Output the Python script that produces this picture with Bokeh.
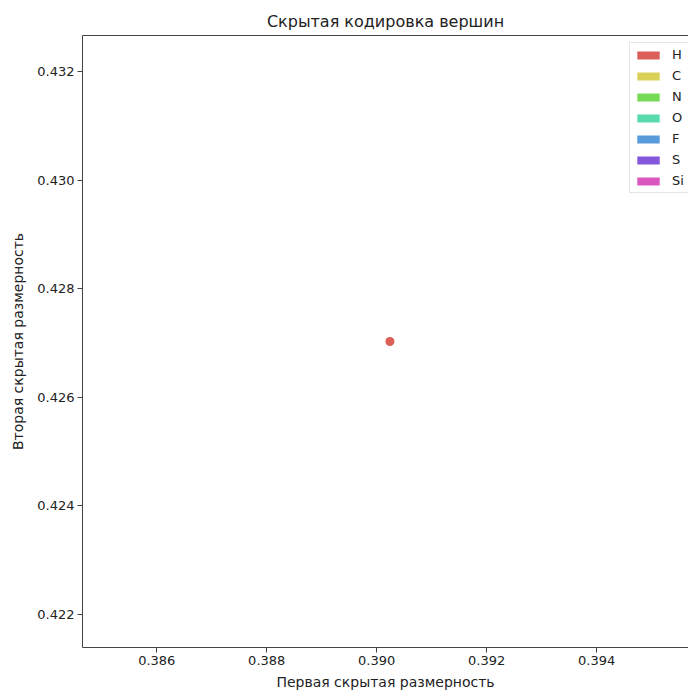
from bokeh.plotting import figure
from bokeh.models import Range1d, FixedTicker, PrintfTickFormatter, Legend, LegendItem, LinearAxis
from bokeh.embed import file_html
from bokeh.resources import INLINE

# data
elements = ["H", "C", "N", "O", "F", "S", "Si"]
element_colors = ["#db5f57", "#dbd057", "#75db57", "#57dbaa", "#579bdb", "#8457db", "#db57c0"]
point_x = [0.39024]
point_y = [0.42703]
point_element = ["H"]
x_ticks = [0.386, 0.388, 0.390, 0.392, 0.394]
y_ticks = [0.422, 0.424, 0.426, 0.428, 0.430, 0.432]

FONT = "DejaVu Sans"
NAN = float("nan")

p = figure(width=688, height=693, output_backend="svg", toolbar_location=None,
           x_range=Range1d(0.38465, 0.39567), y_range=Range1d(0.42139, 0.43267),
           title="Скрытая кодировка вершин",
           min_border_left=82, min_border_bottom=46, min_border_top=35, min_border_right=0)
p.background_fill_color = "white"
p.border_fill_color = "white"
p.outline_line_color = None
p.grid.visible = False

p.title.align = "center"
p.title.text_font = FONT
p.title.text_font_size = "16px"
p.title.text_font_style = "normal"
p.title.text_color = "#222222"

for ax, ticks in ((p.xaxis[0], x_ticks), (p.yaxis[0], y_ticks)):
    ax.ticker = FixedTicker(ticks=ticks, minor_ticks=[])
    ax.formatter = PrintfTickFormatter(format="%.3f")
    ax.major_label_text_font = FONT
    ax.major_label_text_font_size = "13px"
    ax.major_label_text_color = "#222222"
    ax.axis_label_text_font = FONT
    ax.axis_label_text_font_size = "14px"
    ax.axis_label_text_font_style = "normal"
    ax.axis_label_text_color = "#222222"
    ax.axis_line_color = "#444444"
    ax.major_tick_line_color = "#444444"
    ax.major_tick_out = 5
    ax.major_tick_in = 0
    ax.minor_tick_out = 0
    ax.minor_tick_in = 0
    ax.major_label_standoff = 3

p.xaxis[0].axis_label_standoff = 6
p.yaxis[0].axis_label_standoff = 8
p.xaxis.axis_label = "Первая скрытая размерность"
p.yaxis.axis_label = "Вторая скрытая размерность"

top_axis = LinearAxis(ticker=FixedTicker(ticks=[]), major_label_text_font_size="0px",
                      major_tick_out=0, major_tick_in=0, minor_tick_out=0, minor_tick_in=0,
                      axis_line_color="#444444", major_label_standoff=0)
p.add_layout(top_axis, "above")

color_of = dict(zip(elements, element_colors))
p.scatter(point_x, point_y, size=9, fill_color=[color_of[e] for e in point_element],
          line_color=None)

items = []
for el, col in zip(elements, element_colors):
    r = p.quad(left=[NAN], right=[NAN], top=[NAN], bottom=[NAN], fill_color=col, line_color=None)
    items.append(LegendItem(label=el, renderers=[r]))

legend = Legend(items=items, location=(547, 454), margin=0, padding=4, spacing=6,
                glyph_width=28, glyph_height=10, label_height=10, label_standoff=10,
                label_text_font=FONT, label_text_font_size="13px", label_text_color="#222222",
                border_line_color="#cccccc", background_fill_alpha=0.8)
p.add_layout(legend)

open("out.html", "w").write(file_html(p, INLINE))
